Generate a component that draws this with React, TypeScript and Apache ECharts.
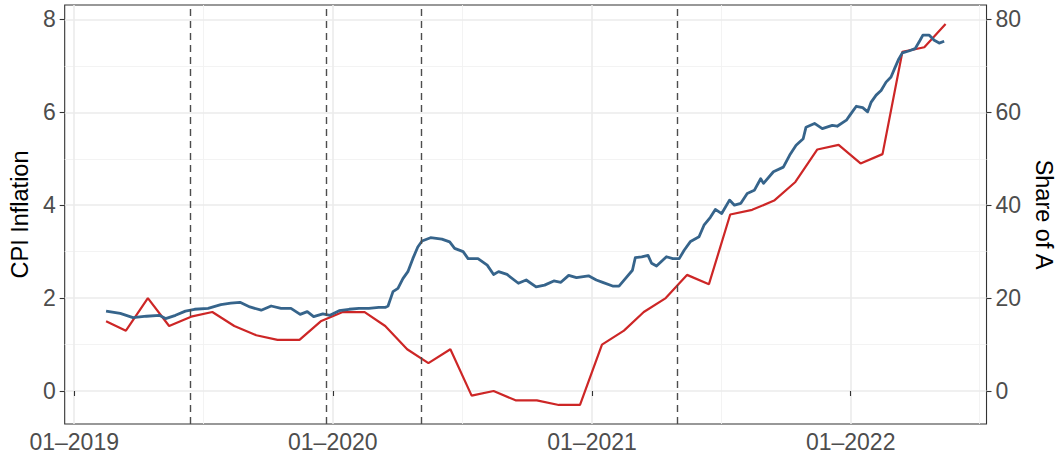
import React, { useEffect, useRef } from 'react';
import * as echarts from 'echarts';

// ---------------- data ----------------
// Monthly CPI inflation (left axis), plotted on the 15th of each month
const cpiMonths = [
  '2019-02', '2019-03', '2019-04', '2019-05', '2019-06', '2019-07', '2019-08', '2019-09', '2019-10', '2019-11', '2019-12',
  '2020-01', '2020-02', '2020-03', '2020-04', '2020-05', '2020-06', '2020-07', '2020-08', '2020-09', '2020-10', '2020-11', '2020-12',
  '2021-01', '2021-02', '2021-03', '2021-04', '2021-05', '2021-06', '2021-07', '2021-08', '2021-09', '2021-10', '2021-11', '2021-12',
  '2022-01', '2022-02', '2022-03', '2022-04', '2022-05',
];
const cpiValues = [
  1.5, 1.3, 2.0, 1.4, 1.6, 1.7, 1.4, 1.2, 1.1, 1.1, 1.5,
  1.7, 1.7, 1.4, 0.9, 0.6, 0.9, -0.1, 0.0, -0.2, -0.2, -0.3, -0.3,
  1.0, 1.3, 1.7, 2.0, 2.5, 2.3, 3.8, 3.9, 4.1, 4.5, 5.2, 5.3,
  4.9, 5.1, 7.3, 7.4, 7.9,
];

// Share of A (right axis)
const shareDates = [
  '2019-02-15', '2019-03-07', '2019-03-25', '2019-04-13', '2019-05-01', '2019-05-10', '2019-05-24', '2019-06-07', '2019-06-20', '2019-07-09',
  '2019-07-27', '2019-08-10', '2019-08-23', '2019-09-06', '2019-09-22', '2019-10-06', '2019-10-20', '2019-11-03', '2019-11-16', '2019-11-26',
  '2019-12-05', '2019-12-18', '2019-12-28',
  '2020-01-10', '2020-01-24', '2020-02-07', '2020-02-21', '2020-03-06', '2020-03-15', '2020-03-19', '2020-03-26', '2020-04-02', '2020-04-09',
  '2020-04-16', '2020-04-23', '2020-04-30', '2020-05-06', '2020-05-18', '2020-06-03', '2020-06-14', '2020-06-21', '2020-07-03', '2020-07-10',
  '2020-07-24', '2020-08-06', '2020-08-15', '2020-08-22', '2020-09-03', '2020-09-19', '2020-09-30', '2020-10-14', '2020-10-26', '2020-11-08',
  '2020-11-18', '2020-11-29', '2020-12-10', '2020-12-27',
  '2021-01-07', '2021-01-16', '2021-01-30', '2021-02-08', '2021-02-17', '2021-02-27', '2021-03-03', '2021-03-12', '2021-03-21', '2021-03-26',
  '2021-04-02', '2021-04-16', '2021-04-25', '2021-05-04', '2021-05-11', '2021-05-20', '2021-06-01', '2021-06-08', '2021-06-17', '2021-06-24',
  '2021-07-03', '2021-07-14', '2021-07-21', '2021-07-30', '2021-08-08', '2021-08-18', '2021-08-27', '2021-08-31', '2021-09-14', '2021-09-28',
  '2021-10-07', '2021-10-16', '2021-10-26', '2021-10-30', '2021-11-11', '2021-11-22', '2021-12-06', '2021-12-13', '2021-12-26', '2021-12-31',
  '2022-01-09', '2022-01-18', '2022-01-25', '2022-01-30', '2022-02-06', '2022-02-13', '2022-02-20', '2022-02-27', '2022-03-04', '2022-03-10',
  '2022-03-15', '2022-03-24', '2022-04-02', '2022-04-09', '2022-04-13', '2022-04-22', '2022-04-29', '2022-05-06', '2022-05-13',
];
const shareValues = [
  17.2, 16.7, 15.8, 16.1, 16.3, 15.6, 16.3, 17.2, 17.6, 17.8,
  18.6, 18.9, 19.1, 18.1, 17.4, 18.3, 17.8, 17.8, 16.5, 17.1,
  16.0, 16.6, 16.3,
  17.3, 17.6, 17.8, 17.8, 18.0, 18.0, 18.3, 21.4, 22.1, 24.2,
  25.7, 28.5, 31.0, 32.3, 33.0, 32.7, 32.1, 30.7, 30.0, 28.5,
  28.5, 27.1, 25.1, 25.7, 25.1, 23.2, 23.9, 22.4, 22.8, 23.7,
  23.4, 24.9, 24.4, 24.8,
  23.9, 23.4, 22.6, 22.6, 24.2, 26.0, 28.7, 28.9, 29.2, 27.5,
  26.9, 28.9, 28.5, 28.5, 30.3, 32.2, 33.2, 35.7, 37.4, 39.1,
  38.2, 41.1, 40.0, 40.4, 42.5, 43.2, 45.7, 44.7, 47.2, 48.2,
  50.8, 52.9, 54.3, 56.8, 57.6, 56.5, 57.2, 57.0, 58.3, 59.4,
  61.3, 61.0, 60.1, 62.2, 63.7, 64.7, 66.5, 67.6, 69.4, 71.5,
  72.8, 73.2, 73.7, 75.5, 76.6, 76.6, 75.5, 74.9, 75.3,
];

// event dates (dashed vertical lines)
const eventDates = ['2019-06-14', '2019-12-23', '2020-05-05', '2021-05-01'];

// axis ticks
const xTickDates = ['2019-01-01', '2020-01-01', '2021-01-01', '2022-01-01'];
const xMinorDates = ['2019-07-02', '2020-07-02', '2021-07-02', '2022-07-02'];
const leftTicks = [0, 2, 4, 6, 8];
const leftMinor = [1, 3, 5, 7];
const rightTicks = [0, 20, 40, 60, 80];

// ---------------- helpers ----------------
const ts = (s: string): number => {
  const p = s.split('-').map(Number);
  return Date.UTC(p[0], p[1] - 1, p.length > 2 ? p[2] : 15);
};

const FONT = '"Liberation Sans", Arial, Helvetica, sans-serif';

export default function App() {
  const ref = useRef<HTMLDivElement | null>(null);

  useEffect(() => {
    if (!ref.current) return;
    const chart = echarts.init(ref.current, undefined, { renderer: 'svg' });

    const xMin = Date.UTC(2018, 11, 18, 14);
    const xMax = Date.UTC(2022, 6, 11, 19);

    const majorGrid = { color: '#EBEBEB', width: 1.6, type: 'solid' };
    const minorGrid = { color: '#F2F2F2', width: 0.9, type: 'solid' };

    const gridLines = [
      ...leftMinor.map((v) => ({ yAxis: v, lineStyle: minorGrid })),
      ...xMinorDates.map((d) => ({ xAxis: ts(d), lineStyle: minorGrid })),
      ...leftTicks.map((v) => ({ yAxis: v, lineStyle: majorGrid })),
      ...xTickDates.map((d) => ({ xAxis: ts(d), lineStyle: majorGrid })),
    ];

    const option: any = {
      animation: false,
      textStyle: { fontFamily: FONT },
      grid: {
        left: 58,
        right: 61,
        top: 5,
        bottom: 33,
        show: true,
        borderColor: '#333333',
        borderWidth: 1.1,
        backgroundColor: 'transparent',
        containLabel: false,
      },
      xAxis: {
        type: 'value',
        min: xMin,
        max: xMax,
        splitLine: { show: false },
        axisLine: { show: false },
        axisTick: {
          show: true,
          length: 5,
          lineStyle: { color: '#333333', width: 1.1 },
          customValues: xTickDates.map(ts),
        },
        axisLabel: {
          customValues: xTickDates.map(ts),
          formatter: (v: number) => {
            const d = new Date(v);
            const m = String(d.getUTCMonth() + 1).padStart(2, '0');
            return m + '\u2013' + d.getUTCFullYear();
          },
          color: '#4D4D4D',
          fontSize: 23,
          fontFamily: FONT,
          margin: 6,
          hideOverlap: false,
        },
      },
      yAxis: [
        {
          type: 'value',
          position: 'left',
          min: -0.71,
          max: 8.31,
          splitLine: { show: false },
          axisLine: { show: false },
          axisTick: {
            show: true,
            length: 5,
            lineStyle: { color: '#333333', width: 1.1 },
            customValues: leftTicks,
          },
          axisLabel: {
            customValues: leftTicks,
            color: '#4D4D4D',
            fontSize: 23,
            fontFamily: FONT,
            margin: 9,
          },
          name: 'CPI Inflation',
          nameLocation: 'middle',
          nameRotate: 90,
          nameGap: 28,
          nameTextStyle: { color: '#000000', fontSize: 23.5, fontFamily: FONT },
        },
        {
          type: 'value',
          position: 'right',
          min: -7.1,
          max: 83.1,
          splitLine: { show: false },
          axisLine: { show: false },
          axisTick: {
            show: true,
            length: 5,
            lineStyle: { color: '#333333', width: 1.1 },
            customValues: rightTicks,
          },
          axisLabel: {
            customValues: rightTicks,
            color: '#4D4D4D',
            fontSize: 23,
            fontFamily: FONT,
            margin: 9,
          },
          name: 'Share of A',
          nameLocation: 'middle',
          nameRotate: -90,
          nameGap: 40,
          nameTextStyle: { color: '#000000', fontSize: 23.5, fontFamily: FONT },
        },
      ],
      series: [
        {
          name: 'CPI Inflation',
          type: 'line',
          xAxisIndex: 0,
          yAxisIndex: 0,
          z: 2,
          showSymbol: false,
          symbol: 'none',
          lineStyle: { color: '#CD2626', width: 2.2 },
          itemStyle: { color: '#CD2626' },
          data: cpiMonths.map((m, i) => [ts(m), cpiValues[i]]),
          markLine: {
            silent: true,
            z: 0,
            symbol: ['none', 'none'],
            label: { show: false },
            animation: false,
            data: gridLines,
          },
        },
        {
          name: 'Share of A',
          type: 'line',
          xAxisIndex: 0,
          yAxisIndex: 1,
          z: 2,
          showSymbol: false,
          symbol: 'none',
          lineStyle: { color: '#36648B', width: 2.8, join: 'round' },
          itemStyle: { color: '#36648B' },
          data: shareDates.map((d, i) => [ts(d), shareValues[i]]),
          markLine: {
            silent: true,
            z: 3,
            symbol: ['none', 'none'],
            label: { show: false },
            animation: false,
            lineStyle: { color: '#4D4D4D', width: 1.4, type: [7, 5] },
            data: eventDates.map((d) => ({ xAxis: ts(d) })),
          },
        },
      ],
    };

    chart.setOption(option);
    return () => {
      chart.dispose();
    };
  }, []);

  return (
    <div
      ref={ref}
      style={{ position: 'absolute', left: 0, top: 0, width: 1064, height: 457, background: '#FFFFFF' }}
    />
  );
}
